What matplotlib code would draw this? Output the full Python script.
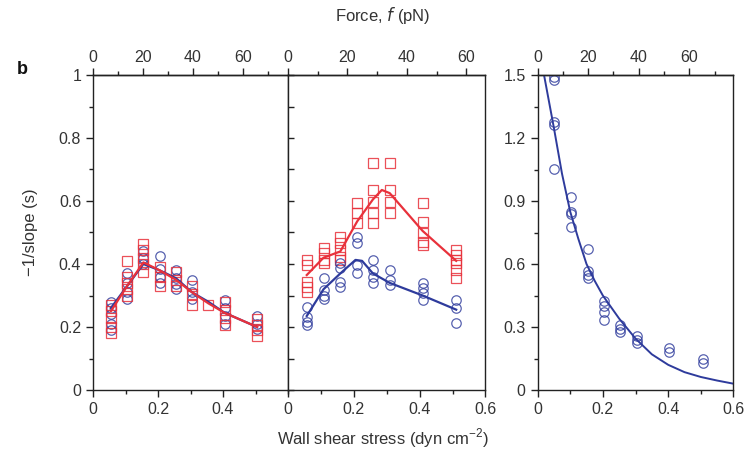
import matplotlib
matplotlib.use("Agg")
import matplotlib.pyplot as plt
from matplotlib.ticker import MultipleLocator, FixedLocator

plt.rcParams['font.family'] = ['Liberation Sans', 'DejaVu Sans']

RED = '#e8313b'
BLUE = '#2e3b9c'
TXT = '#333333'

# ---------------- data ----------------
# Panel 1
p1_red_x = [0.055]*5 + [0.105]*5 + [0.155]*5 + [0.205]*3 + [0.255]*3 + [0.305]*3 + [0.355] + [0.405]*4 + [0.505]*4
p1_red_y = [0.27, 0.25, 0.23, 0.20, 0.18,
            0.41, 0.36, 0.34, 0.32, 0.30,
            0.465, 0.445, 0.42, 0.40, 0.375,
            0.39, 0.36, 0.33,
            0.375, 0.35, 0.33,
            0.33, 0.305, 0.27,
            0.27,
            0.28, 0.255, 0.23, 0.205,
            0.225, 0.205, 0.19, 0.17]
p1_blue_x = [0.055]*5 + [0.105]*4 + [0.155]*3 + [0.205]*4 + [0.255]*4 + [0.305]*3 + [0.405]*4 + [0.505]*3
p1_blue_y = [0.28, 0.26, 0.24, 0.21, 0.19,
             0.37, 0.34, 0.31, 0.29,
             0.44, 0.42, 0.40,
             0.425, 0.385, 0.36, 0.34,
             0.38, 0.355, 0.335, 0.32,
             0.35, 0.31, 0.29,
             0.285, 0.26, 0.235, 0.21,
             0.235, 0.21, 0.195]
p1_red_line_x = [0.055, 0.105, 0.155, 0.205, 0.255, 0.305, 0.355, 0.405, 0.505]
p1_red_line_y = [0.25, 0.33, 0.405, 0.38, 0.35, 0.31, 0.275, 0.245, 0.20]
p1_blue_line_x = [0.055, 0.105, 0.155, 0.205, 0.255, 0.305, 0.355, 0.405, 0.505]
p1_blue_line_y = [0.26, 0.33, 0.40, 0.38, 0.355, 0.31, 0.28, 0.245, 0.20]

# Panel 2
p2_red_x = [0.057]*5 + [0.108]*4 + [0.159]*5 + [0.21]*3 + [0.258]*5 + [0.309]*4 + [0.409]*5 + [0.511]*6
p2_red_y = [0.413, 0.397, 0.344, 0.328, 0.312,
            0.45, 0.434, 0.413, 0.402,
            0.487, 0.466, 0.444, 0.423, 0.413,
            0.593, 0.561, 0.529,
            0.72, 0.635, 0.598, 0.561, 0.529,
            0.72, 0.635, 0.598, 0.561,
            0.595, 0.534, 0.497, 0.471, 0.46,
            0.444, 0.429, 0.413, 0.402, 0.381, 0.354]
p2_blue_x = [0.057]*4 + [0.108]*4 + [0.159]*4 + [0.21]*4 + [0.258]*4 + [0.309]*3 + [0.409]*4 + [0.511]*3
p2_blue_y = [0.264, 0.233, 0.217, 0.206,
             0.354, 0.317, 0.30, 0.29,
             0.402, 0.386, 0.344, 0.328,
             0.487, 0.466, 0.397, 0.37,
             0.413, 0.381, 0.36, 0.339,
             0.381, 0.349, 0.333,
             0.339, 0.323, 0.307, 0.286,
             0.286, 0.26, 0.212]
p2_red_line_x = [0.057, 0.108, 0.159, 0.21, 0.258, 0.285, 0.309, 0.409, 0.511]
p2_red_line_y = [0.365, 0.42, 0.44, 0.535, 0.605, 0.635, 0.625, 0.505, 0.41]
p2_blue_line_x = [0.057, 0.108, 0.159, 0.205, 0.225, 0.258, 0.309, 0.409, 0.511]
p2_blue_line_y = [0.235, 0.32, 0.37, 0.413, 0.41, 0.37, 0.34, 0.30, 0.255]

# Panel 3
p3_x = [0.051]*5 + [0.103]*4 + [0.154]*4 + [0.203]*4 + [0.254]*3 + [0.305]*3 + [0.403]*2 + [0.506]*2
p3_y = [1.49, 1.476, 1.277, 1.26, 1.053,
        0.917, 0.85, 0.838, 0.774,
        0.67, 0.566, 0.55, 0.534,
        0.423, 0.40, 0.37, 0.335,
        0.31, 0.29, 0.275,
        0.255, 0.24, 0.225,
        0.20, 0.18,
        0.15, 0.13]
p3_line_x = [0.02, 0.05, 0.075, 0.1, 0.125, 0.15, 0.175, 0.2, 0.25, 0.3, 0.35, 0.4, 0.45, 0.5, 0.55, 0.6]
p3_line_y = [1.5, 1.25, 1.03, 0.85, 0.72, 0.6, 0.52, 0.45, 0.34, 0.245, 0.17, 0.12, 0.085, 0.062, 0.045, 0.03]

# force conversion factor (pN per dyn cm^-2) for top axes
force_factor = [130.0, 110.7, 129.0]
x_ticks = [0, 0.2, 0.4]
x_ticklabels = ['0', '0.2', '0.4']

# ---------------- figure ----------------
W, H = 752, 457
fig = plt.figure(figsize=(W/100, H/100), dpi=100)

def rect(x0, x1, ytop=75, ybot=390):
    return [x0/W, 1 - ybot/H, (x1 - x0)/W, (ybot - ytop)/H]

ax1 = fig.add_axes(rect(93, 288))
ax2 = fig.add_axes(rect(288, 485.5))
ax3 = fig.add_axes(rect(537.5, 733.5))

sq_kw = dict(marker='s', ms=7.2, mfc='none', mec=RED, mew=0.9, ls='none', alpha=0.85)
ci_kw = dict(marker='o', ms=6.8, mfc='none', mec=BLUE, mew=0.9, ls='none', alpha=0.8)

ax1.plot(p1_blue_x, p1_blue_y, **ci_kw)
ax1.plot(p1_red_x, p1_red_y, **sq_kw)
ax1.plot(p1_blue_line_x, p1_blue_line_y, color=BLUE, lw=1.6)
ax1.plot(p1_red_line_x, p1_red_line_y, color=RED, lw=1.6)

ax2.plot(p2_red_x, p2_red_y, **sq_kw)
ax2.plot(p2_blue_x, p2_blue_y, **ci_kw)
ax2.plot(p2_red_line_x, p2_red_line_y, color=RED, lw=1.6)
ax2.plot(p2_blue_line_x, p2_blue_line_y, color=BLUE, lw=1.6)

ax3.plot(p3_x, p3_y, **ci_kw)
ax3.plot(p3_line_x, p3_line_y, color=BLUE, lw=1.4)

for i, ax in enumerate([ax1, ax2, ax3]):
    ax.set_xlim(0, 0.6)
    for s in ax.spines.values():
        s.set_linewidth(1.0)
        s.set_color('#222222')
    ax.xaxis.set_major_locator(MultipleLocator(0.2))
    ax.xaxis.set_minor_locator(MultipleLocator(0.1))
    ax.tick_params(which='both', direction='out', colors='#222222', labelcolor=TXT,
                   labelsize=11.5, width=1.0)
    ax.tick_params(which='major', length=5)
    ax.tick_params(which='minor', length=3)
    k = force_factor[i]
    sec = ax.secondary_xaxis('top', functions=(lambda x, k=k: x*k, lambda f, k=k: f/k))
    sec.xaxis.set_major_locator(FixedLocator([0, 20, 40, 60]))
    sec.xaxis.set_minor_locator(FixedLocator([10, 30, 50, 70]))
    sec.tick_params(which='both', direction='out', colors='#222222', labelcolor=TXT,
                    labelsize=11.5, width=1.0, pad=2)
    sec.tick_params(which='major', length=5)
    sec.tick_params(which='minor', length=3)
    sec.spines['top'].set_linewidth(1.0)

ax1.set_xticks(x_ticks)
ax1.set_xticklabels(x_ticklabels)
ax2.set_xticks(x_ticks + [0.6])
ax2.set_xticklabels(x_ticklabels + ['0.6'])
ax3.set_xticks(x_ticks + [0.6])
ax3.set_xticklabels(x_ticklabels + ['0.6'])

ax1.set_ylim(0, 1)
ax1.yaxis.set_major_locator(MultipleLocator(0.2))
ax1.yaxis.set_minor_locator(MultipleLocator(0.1))
ax1.set_yticks([0, 0.2, 0.4, 0.6, 0.8, 1.0])
ax1.set_yticklabels(['0', '0.2', '0.4', '0.6', '0.8', '1'])

ax2.set_ylim(0, 1)
ax2.yaxis.set_major_locator(MultipleLocator(0.1))
ax2.tick_params(axis='y', which='both', direction='in', labelleft=False, length=4)

ax3.set_ylim(0, 1.5)
ax3.set_yticks([0, 0.3, 0.6, 0.9, 1.2, 1.5])
ax3.set_yticklabels(['0', '0.3', '0.6', '0.9', '1.2', '1.5'])
ax3.yaxis.set_minor_locator(MultipleLocator(0.15))

fig.text(30/W, 1 - 232/H, '\u22121/slope (s)', rotation=90, ha='center', va='center',
         fontsize=12, color=TXT)
fig.text(383/W, 1 - 438/H, 'Wall shear stress (dyn cm$^{\\mathregular{-2}}$)', ha='center', va='center',
         fontsize=12, color=TXT)
fig.text(383/W, 1 - 15/H, 'Force, $\\mathit{f}$ (pN)', ha='center', va='center',
         fontsize=12, color=TXT)
fig.text(22/W, 1 - 69/H, 'b', ha='center', va='center', fontsize=13, fontweight='bold', color='#111111')

fig.savefig('out.png', dpi=100)
